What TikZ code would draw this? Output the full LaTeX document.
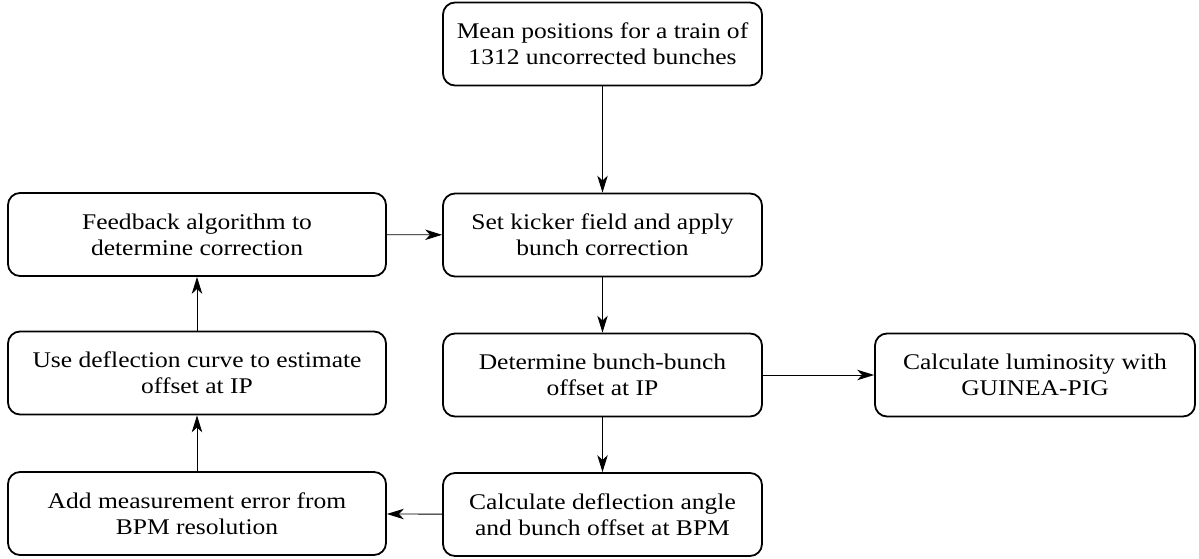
\documentclass[tikz,border=0pt]{standalone}
\usepackage{fontspec}
\setmainfont{Liberation Serif}[FakeStretch=1.14]
\usetikzlibrary{arrows.meta}
\begin{document}
\begin{tikzpicture}[x=1pt,y=-1pt,
  stepbox/.style={draw, line width=1.8pt, rounded corners=12pt, align=center,
    minimum height=83pt, inner sep=0pt,
    font=\fontsize{22.4}{26}\selectfont},
  flow/.style={line width=0.9pt, -{Stealth[length=17pt,width=10.5pt,inset=5pt]}}]
  \useasboundingbox (0,0) rectangle (1199,559);
  \node[stepbox, minimum width=319pt] (mean) at (602.5,44) {Mean positions for a train of\\1312 uncorrected bunches};
  \node[stepbox, minimum width=319pt] (kick) at (602.5,235) {Set kicker field and apply\\bunch correction};
  \node[stepbox, minimum width=378pt] (fb) at (197,234.5) {Feedback algorithm to\\determine correction};
  \node[stepbox, minimum width=378pt] (use) at (197,373) {Use deflection curve to estimate\\offset at IP};
  \node[stepbox, minimum width=319pt] (det) at (602.5,375) {Determine bunch-bunch\\offset at IP};
  \node[stepbox, minimum width=320pt] (lum) at (1035,375) {Calculate luminosity with\\GUINEA-PIG};
  \node[stepbox, minimum width=378pt] (add) at (197,513.5) {Add measurement error from\\BPM resolution};
  \node[stepbox, minimum width=319pt] (calc) at (602.5,514.5) {Calculate deflection angle\\and bunch offset at BPM};
  \draw[flow] (mean) -- (kick);
  \draw[flow] (fb) -- (kick);
  \draw[flow] (kick) -- (det);
  \draw[flow] (det) -- (lum);
  \draw[flow] (det) -- (calc);
  \draw[flow] (calc) -- (add);
  \draw[flow] (add) -- (use);
  \draw[flow] (use) -- (fb);
\end{tikzpicture}
\end{document}
